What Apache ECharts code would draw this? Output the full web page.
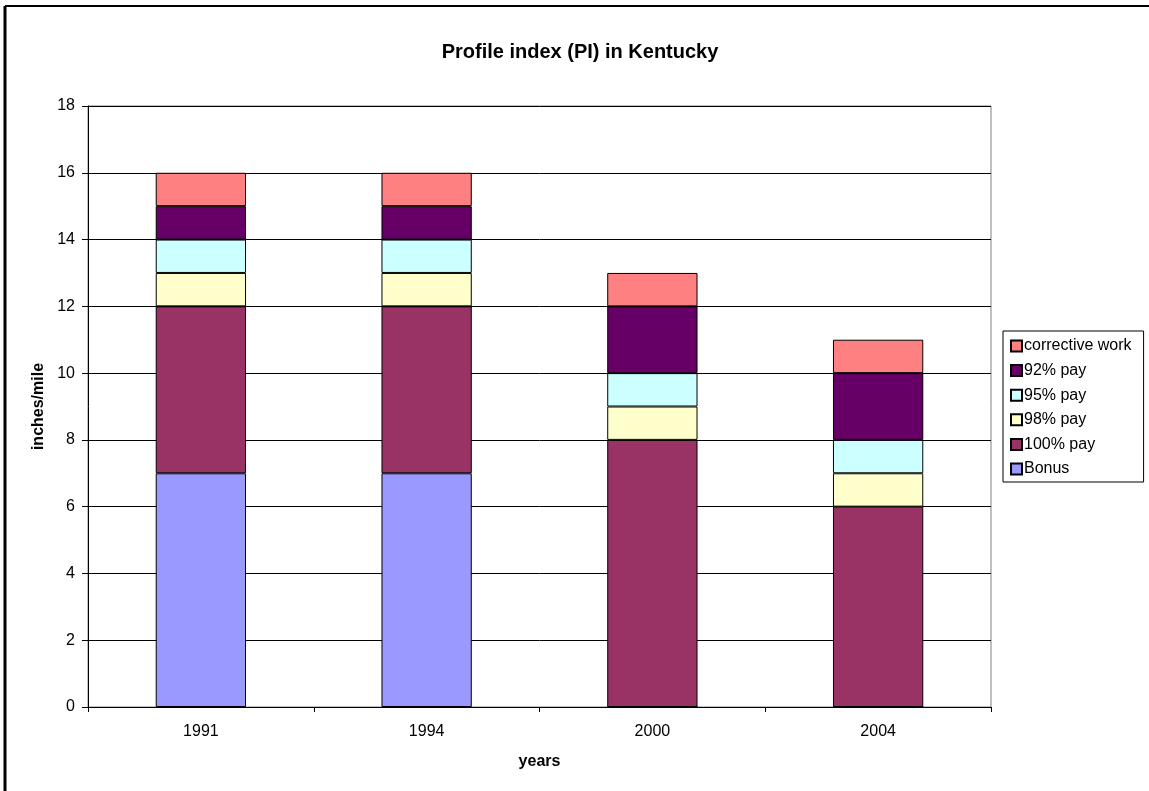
<!DOCTYPE html>
<html>
<head>
<meta charset="utf-8">
<script src="https://cdn.jsdelivr.net/npm/echarts@6/dist/echarts.min.js"></script>
<style>
  html, body { margin: 0; padding: 0; background: #fff; }
  #chart { width: 1149px; height: 791px; }
</style>
</head>
<body>
<div id="chart"></div>
<script>
var years = ['1991', '1994', '2000', '2004'];
var bonus = [7, 7, 0, 0];
var pay100 = [5, 5, 8, 6];
var pay98 = [1, 1, 1, 1];
var pay95 = [1, 1, 1, 1];
var pay92 = [1, 1, 2, 2];
var corrective = [1, 1, 1, 1];

var font = 'Arial, "Liberation Sans", sans-serif';

function bar(name, data, color) {
  return {
    name: name,
    type: 'bar',
    stack: 'pi',
    barWidth: '40%',
    data: data,
    itemStyle: { color: color, borderColor: '#000', borderWidth: 1 }
  };
}

var chart = echarts.init(document.getElementById('chart'));
chart.setOption({
  animation: false,
  title: {
    text: 'Profile index (PI) in Kentucky',
    left: 575,
    textAlign: 'center',
    top: 37,
    textStyle: { fontFamily: font, fontSize: 20, fontWeight: 'bold', color: '#000' }
  },
  graphic: [
    { type: 'line', shape: { x1: 5, y1: 6, x2: 1149, y2: 6 }, style: { stroke: '#000', lineWidth: 2 } },
    { type: 'line', shape: { x1: 5, y1: 6, x2: 5, y2: 791 }, style: { stroke: '#000', lineWidth: 3 } }
  ],
  grid: {
    left: 88, top: 106, width: 903, height: 601,
    show: true, borderColor: '#808080', borderWidth: 1, backgroundColor: '#fff'
  },
  legend: {
    orient: 'vertical',
    left: 1003,
    top: 331,
    padding: [7, 12, 5, 7],
    itemGap: 8.6,
    itemWidth: 11,
    itemHeight: 11,
    icon: 'rect',
    borderColor: '#000',
    borderWidth: 1,
    selectedMode: false,
    textStyle: { fontFamily: font, fontSize: 16, color: '#000', padding: [0, 0, 0, -3] },
    data: ['corrective work', '92% pay', '95% pay', '98% pay', '100% pay', 'Bonus']
  },
  xAxis: {
    type: 'category',
    data: years,
    name: 'years',
    nameLocation: 'middle',
    nameGap: 47,
    nameTextStyle: { fontFamily: font, fontSize: 16, fontWeight: 'bold', color: '#000' },
    axisLine: { lineStyle: { color: '#000', width: 1 } },
    axisTick: { show: true, length: 5, lineStyle: { color: '#000' } },
    axisLabel: { fontFamily: font, fontSize: 16, color: '#000', margin: 17 }
  },
  yAxis: {
    type: 'value',
    min: 0,
    max: 18,
    interval: 2,
    name: 'inches/mile',
    nameLocation: 'middle',
    nameGap: 37,
    nameTextStyle: { fontFamily: font, fontSize: 16, fontWeight: 'bold', color: '#000' },
    axisLine: { show: true, lineStyle: { color: '#000', width: 1 } },
    axisTick: { show: true, length: 6, lineStyle: { color: '#000' } },
    axisLabel: { fontFamily: font, fontSize: 16, color: '#000', margin: 13 },
    splitLine: { show: true, lineStyle: { color: '#000', width: 1 } }
  },
  series: [
    bar('Bonus', bonus, '#9999FF'),
    bar('100% pay', pay100, '#993366'),
    bar('98% pay', pay98, '#FFFFCC'),
    bar('95% pay', pay95, '#CCFFFF'),
    bar('92% pay', pay92, '#660066'),
    bar('corrective work', corrective, '#FF8080')
  ]
});
</script>
</body>
</html>
